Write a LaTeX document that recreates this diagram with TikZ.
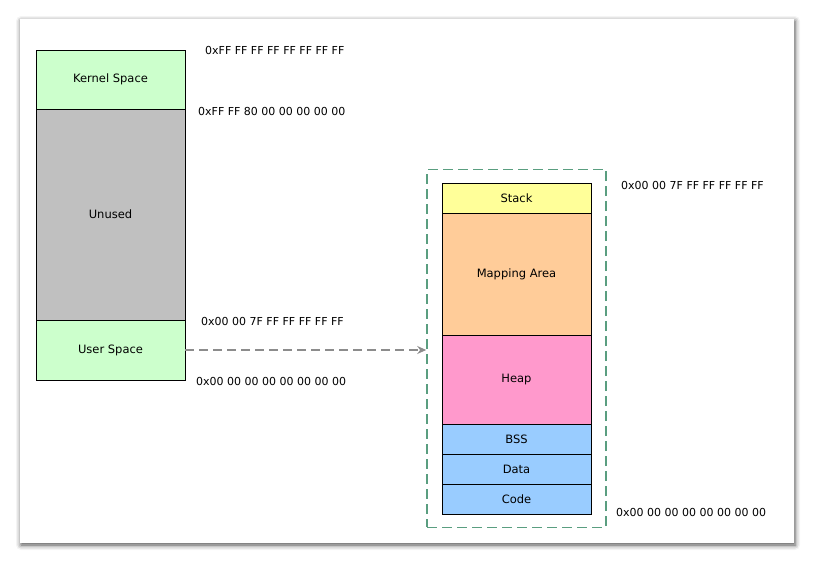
\documentclass[tikz,border=0pt]{standalone}
\usepackage{fontspec}
\setmainfont{DejaVu Sans}
\usetikzlibrary{shadows.blur,fit,arrows.meta}
\definecolor{kgreen}{HTML}{CCFFCC}
\definecolor{ugray}{HTML}{C0C0C0}
\definecolor{syellow}{HTML}{FFFF99}
\definecolor{morange}{HTML}{FFCC99}
\definecolor{hpink}{HTML}{FF99CC}
\definecolor{sblue}{HTML}{99CCFF}
\definecolor{dgreen}{HTML}{5A9E80}
\definecolor{agray}{HTML}{8C8C8C}
\begin{document}
\begin{tikzpicture}[x=1bp,y=-1bp,
  seg/.style={draw=black, line width=0.8bp, minimum width=149bp, inner sep=0pt, font=\fontsize{11.5bp}{13bp}\selectfont},
  addr/.style={anchor=west, inner sep=0pt, font=\fontsize{11bp}{13bp}\selectfont},
  region/.style={draw=dgreen, line width=1.8bp, dash pattern=on 10bp off 5bp},
  link/.style={draw=agray, line width=1.8bp, dash pattern=on 9bp off 5bp, -{Stealth[length=9bp,width=8bp]}}]
\useasboundingbox (0,0) rectangle (815,563);
\fill[white, blur shadow={shadow xshift=1bp, shadow yshift=-2bp, shadow blur radius=5bp, shadow opacity=70}] (20,19) rectangle (794,543);
% left column
\node[seg, fill=kgreen, minimum height=59bp] (kernel) at (110.5,79.5) {Kernel Space};
\node[seg, fill=ugray, minimum height=211bp] (unused) at (110.5,214.5) {Unused};
\node[seg, fill=kgreen, minimum height=60bp] (user) at (110.5,350) {User Space};
\node[addr] (a1) at (205,50) {0xFF FF FF FF FF FF FF FF};
\node[addr] (a2) at (198,111) {0xFF FF 80 00 00 00 00 00};
\node[addr] (a3) at (201,321) {0x00 00 7F FF FF FF FF FF};
\node[addr] (a4) at (196,381) {0x00 00 00 00 00 00 00 00};
% right column
\node[seg, fill=syellow, minimum height=30bp] (stack) at (516.5,198) {Stack};
\node[seg, fill=morange, minimum height=122bp] (mapping) at (516.5,274) {Mapping Area};
\node[seg, fill=hpink, minimum height=89bp] (heap) at (516.5,379.5) {Heap};
\node[seg, fill=sblue, minimum height=30bp] (bss) at (516.5,439) {BSS};
\node[seg, fill=sblue, minimum height=30bp] (data) at (516.5,469) {Data};
\node[seg, fill=sblue, minimum height=30bp] (code) at (516.5,499) {Code};
\node[region, fit=(stack)(code), inner xsep=14.5bp, inner ysep=13bp] (space) {};
\node[addr] (b1) at (621,185) {0x00 00 7F FF FF FF FF FF};
\node[addr] (b2) at (616,512) {0x00 00 00 00 00 00 00 00};
\draw[link] (user.east) -- (space.west |- user.east);
\end{tikzpicture}
\end{document}
